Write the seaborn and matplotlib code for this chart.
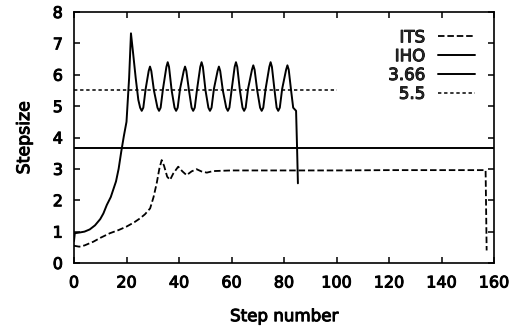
import matplotlib
matplotlib.use("Agg")
import matplotlib.pyplot as plt
import matplotlib.patheffects as pe
import pandas as pd
import seaborn as sns

# ITS step size history
its_step = [0, 2, 4, 7.4, 10, 13.7, 17, 20, 23, 25.1, 27, 29, 30.3, 31.5, 32.5,
            33.4, 34.3, 35.5, 36.6, 37.8, 39.7, 41.3, 42.9, 44.8, 46.7, 48.5,
            50.6, 53, 60, 80, 100, 120, 140, 156.8, 157.2]
its_size = [0.55, 0.52, 0.56, 0.68, 0.80, 0.95, 1.05, 1.16, 1.30, 1.42, 1.55,
            1.74, 2.10, 2.54, 3.00, 3.28, 3.10, 2.75, 2.65, 2.85, 3.07, 2.92,
            2.80, 2.92, 2.99, 2.92, 2.88, 2.93, 2.95, 2.95, 2.95, 2.96, 2.96,
            2.96, 0.40]

# IHO step size history
iho_step = [0, 0.3, 2, 4, 6, 8, 10, 11.2, 12.5, 14, 15, 16, 17, 18, 19, 20, 21,
            21.7, 22.5, 23.5, 24.5,
            25.2, 25.8, 26.4, 27.3, 28.45, 28.95, 29.45, 30.45,
            31.8, 32.4, 33.0, 33.9, 35.2, 35.7, 36.2, 37.2,
            38.3, 38.9, 39.5, 40.4, 41.8, 42.3, 42.8, 43.8,
            44.8, 45.4, 46.0, 46.9, 48.1, 48.6, 49.1, 50.1,
            51.2, 51.8, 52.4, 53.3, 54.7, 55.2, 55.7, 56.7,
            58.0, 58.6, 59.2, 60.1, 61.2, 61.7, 62.2, 63.2,
            64.2, 64.8, 65.4, 66.3, 67.8, 68.3, 68.8, 69.8,
            70.9, 71.5, 72.1, 73.0, 74.4, 74.9, 75.4, 76.4,
            77.2, 77.8, 78.4, 79.3, 80.8, 81.3, 81.8, 82.7,
            83.5, 84.6, 85.0, 85.3]
iho_size = [0.70, 0.95, 0.97, 1.00, 1.07, 1.20, 1.40, 1.58, 1.85, 2.10, 2.35,
            2.60, 3.00, 3.55, 4.05, 4.50, 5.90, 7.32, 6.70, 5.90, 5.20,
            4.95, 4.85, 4.95, 5.55, 6.12, 6.26, 6.12, 5.50,
            4.95, 4.85, 4.95, 5.55, 6.25, 6.40, 6.25, 5.50,
            4.95, 4.85, 4.95, 5.55, 6.12, 6.26, 6.12, 5.50,
            4.95, 4.85, 4.95, 5.55, 6.25, 6.40, 6.25, 5.50,
            4.95, 4.85, 4.95, 5.55, 6.12, 6.26, 6.12, 5.50,
            4.95, 4.85, 4.95, 5.55, 6.25, 6.40, 6.25, 5.50,
            4.95, 4.85, 4.95, 5.55, 6.16, 6.30, 6.16, 5.50,
            4.95, 4.85, 4.95, 5.55, 6.25, 6.40, 6.25, 5.50,
            4.95, 4.85, 4.95, 5.55, 6.16, 6.30, 6.16, 5.50,
            4.95, 4.85, 3.60, 2.54]

# constant reference step sizes
ref_a_step = [0, 160]
ref_a_size = [3.66, 3.66]
ref_b_step = [0, 100]
ref_b_size = [5.5, 5.5]

series_labels = ["ITS", "IHO", "3.66", "5.5"]
x_ticks = [0, 20, 40, 60, 80, 100, 120, 140, 160]
y_ticks = [0, 1, 2, 3, 4, 5, 6, 7, 8]

sns.set_theme(style="ticks")
plt.rcParams["font.family"] = ["DejaVu Sans"]

fig = plt.figure(figsize=(5.16, 3.34), dpi=100)
ax = fig.add_axes([74 / 516, 1 - 263 / 334, 420 / 516, 251 / 334])

frames = [
    (pd.DataFrame({"step": its_step, "size": its_size}), series_labels[0],
     dict(linewidth=1.3, linestyle=(0, (3.6, 1.6)))),
    (pd.DataFrame({"step": iho_step, "size": iho_size}), series_labels[1],
     dict(linewidth=1.4, linestyle="-")),
    (pd.DataFrame({"step": ref_a_step, "size": ref_a_size}), series_labels[2],
     dict(linewidth=1.4, linestyle="-")),
    (pd.DataFrame({"step": ref_b_step, "size": ref_b_size}), series_labels[3],
     dict(linewidth=1.1, linestyle=(0, (2.2, 1.8)))),
]
for df, lab, style in frames:
    sns.lineplot(data=df, x="step", y="size", ax=ax, color="black",
                 estimator=None, sort=False, label=lab, **style)

ax.set_xlim(0, 160)
ax.set_ylim(0, 8)
ax.set_xticks(x_ticks)
ax.set_yticks(y_ticks)
ax.set_xticklabels([str(t) for t in x_ticks])
ax.set_yticklabels([str(t) for t in y_ticks])
ax.tick_params(direction="in", length=4.5, width=1.1, top=True, right=True,
               labelsize=11.5, colors="black", pad=8)
ax.tick_params(axis="x", pad=9)
for sp in ax.spines.values():
    sp.set_visible(True)
    sp.set_linewidth(1.2)
    sp.set_color("black")

ax.set_xlabel("Step number", fontsize=12, color="black", labelpad=12)
ax.set_ylabel("Stepsize", fontsize=12.5, color="black", labelpad=14)

leg = ax.legend(loc="upper right", bbox_to_anchor=(0.955, 0.935), frameon=False,
                markerfirst=False, fontsize=12, handlelength=2.2,
                handletextpad=0.8, labelspacing=0.05, borderpad=0,
                borderaxespad=0)

# heavier strokes on all text
heavy = [pe.withStroke(linewidth=0.7, foreground="black")]
texts = (ax.get_xticklabels() + ax.get_yticklabels() + leg.get_texts()
         + [ax.xaxis.label, ax.yaxis.label])
for t in texts:
    t.set_path_effects(heavy)

fig.savefig("out.png", dpi=100)
